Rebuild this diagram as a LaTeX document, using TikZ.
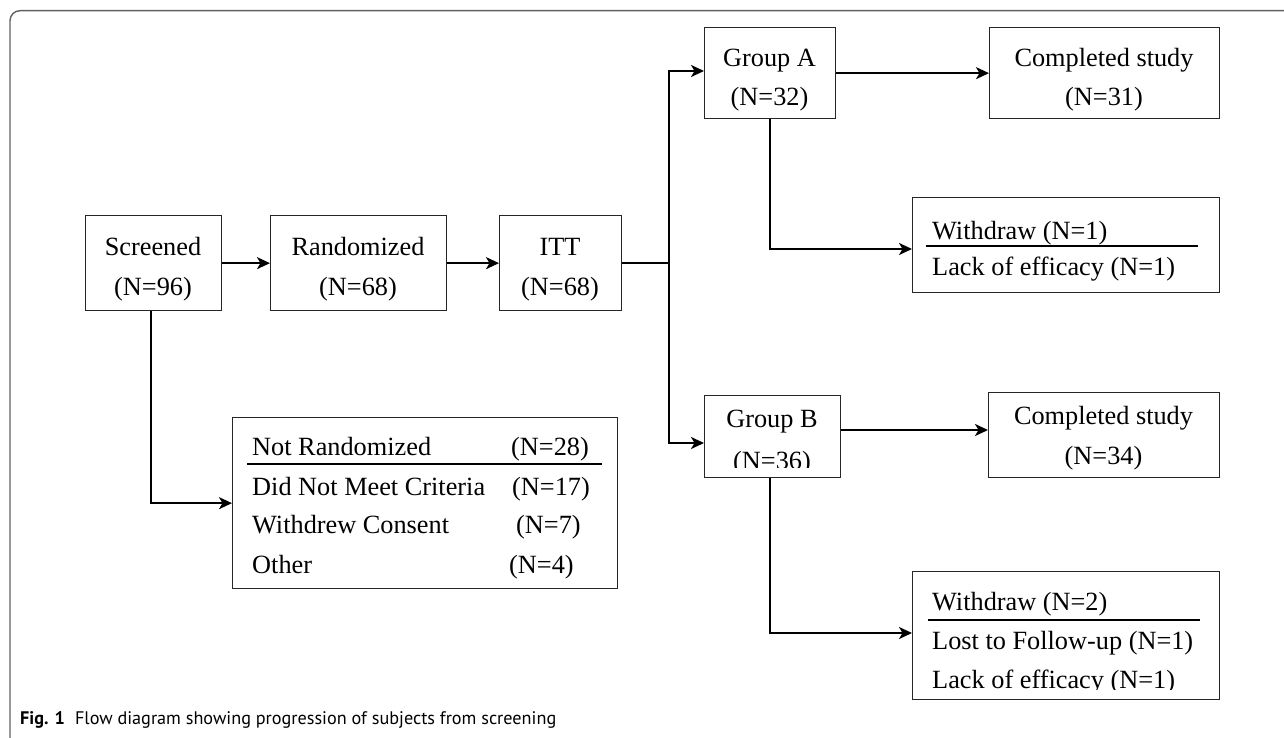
\documentclass[tikz,border=0pt]{standalone}
\usepackage{fontspec}
\setmainfont{Liberation Serif}
\newfontfamily\capfont{PT Sans}
\usetikzlibrary{arrows.meta}
\begin{document}
\begin{tikzpicture}[x=1pt,y=-1pt,
  box/.style={draw=black!85, line width=1.3pt, inner sep=0pt, anchor=north west},
  txt/.style={font=\fontsize{26.3}{30}\selectfont, inner sep=0pt, anchor=base},
  txtl/.style={txt, anchor=base west},
  conn/.style={line width=2pt, black},
  arr/.style={conn, -{Stealth[length=13pt,width=12pt,inset=3.5pt]}},
  rule/.style={line width=1.8pt, black},
  frame/.style={line width=1.4pt, black!62, rounded corners=10pt}]
\useasboundingbox (0,0) rectangle (1284,738);
\fill[white] (0,0) rectangle (1284,738);
\draw[frame] (10,745) -- (10,10.7) -- (1295,10.7);

% boxes
\node[box, minimum width=136pt, minimum height=95pt] (scr) at (85,215) {};
\node[box, minimum width=176pt, minimum height=95pt] (rnd) at (270,215) {};
\node[box, minimum width=122pt, minimum height=95pt] (itt) at (499,215) {};
\node[box, minimum width=131pt, minimum height=91pt] (ga) at (704,27) {};
\node[box, minimum width=230pt, minimum height=91pt] (ca) at (989,27) {};
\node[box, minimum width=307pt, minimum height=95pt] (wa) at (912,197) {};
\node[box, minimum width=136pt, minimum height=82pt] (gb) at (704,395) {};
\node[box, minimum width=231pt, minimum height=85pt] (cb) at (988,392) {};
\node[box, minimum width=307pt, minimum height=128pt] (wb) at (912,571) {};
\node[box, minimum width=385pt, minimum height=171pt] (nr) at (232,417) {};

% texts
\node[txt] (scr1) at (153,255) {Screened};
\node[txt] (scr2) at (153,295) {(N=96)};
\node[txt] (rnd1) at (358,255) {Randomized};
\node[txt] (rnd2) at (358,295) {(N=68)};
\node[txt] (itt1) at (560,255) {ITT};
\node[txt] (itt2) at (560,295) {(N=68)};
\node[txt] (ga1) at (769.5,67) {Group A};
\node[txt] (ga2) at (769.5,106) {(N=32)};
\node[txt] (ca1) at (1104,67) {Completed study};
\node[txt] (ca2) at (1104,106) {(N=31)};
\node[txtl] (wa1) at (932,239) {Withdraw (N=1)};
\node[txtl] (wa2) at (932,275) {Lack of efficacy (N=1)};
\node[txt] (gb1) at (772,427) {Group B};
\begin{scope}
\clip (700,440) rectangle (845,467);
\node[txt] (gb2) at (772,469) {(N=36)};
\end{scope}
\node[txt] (cb1) at (1103.5,424) {Completed study};
\node[txt] (cb2) at (1103.5,464) {(N=34)};
\node[txtl] (wb1) at (932,610) {Withdraw (N=2)};
\node[txtl] (wb2) at (932,649) {Lost to Follow-up (N=1)};
\begin{scope}
\clip (915,660) rectangle (1215,689);
\node[txtl] (wb3) at (932,688) {Lack of efficacy (N=1)};
\end{scope}
\node[txtl] (nr1) at (252,455) {Not Randomized};
\node[txtl] (nr1n) at (511,455) {(N=28)};
\node[txtl] (nr2) at (252,495) {Did Not Meet Criteria};
\node[txtl] (nr2n) at (512,495) {(N=17)};
\node[txtl] (nr3) at (252,533) {Withdrew Consent};
\node[txtl] (nr3n) at (516,533) {(N=7)};
\node[txtl] (nr4) at (252,573) {Other};
\node[txtl] (nr4n) at (509,573) {(N=4)};

% rules under headings
\draw[rule] (247,464) -- (602,464);
\draw[rule] (926,246) -- (1198,246);
\draw[rule] (928,620) -- (1200,620);

% connectors
\draw[arr] (scr.east) -- (rnd.west);
\draw[arr] (rnd.east) -- (itt.west);
\coordinate (jt) at (669,71);
\coordinate (jb) at (669,443);
\draw[conn] (itt.east) -- (itt.east -| jt);
\draw[arr] (itt.east -| jt) -- (jt) -- (jt -| ga.west);
\draw[arr] (itt.east -| jt) -- (jb) -- (jb -| gb.west);
\draw[arr] (ga.east) -- (ca.west);
\draw[arr] (gb.east |- 0,430) -- (cb.west |- 0,430);
\draw[arr] (ga.south) |- (wa.west |- 0,249);
\draw[arr] ([xshift=-3pt]gb.south) |- (wb.west |- 0,633);
\draw[arr] ([xshift=-3pt]scr.south) |- (nr.west);

% caption
\node[anchor=base west, inner sep=0pt, font=\capfont\fontsize{18.2}{21}\selectfont] (cap) at (20,724)
  {\textbf{Fig. 1}\hspace{0.55em}Flow diagram showing progression of subjects from screening};
\end{tikzpicture}
\end{document}
